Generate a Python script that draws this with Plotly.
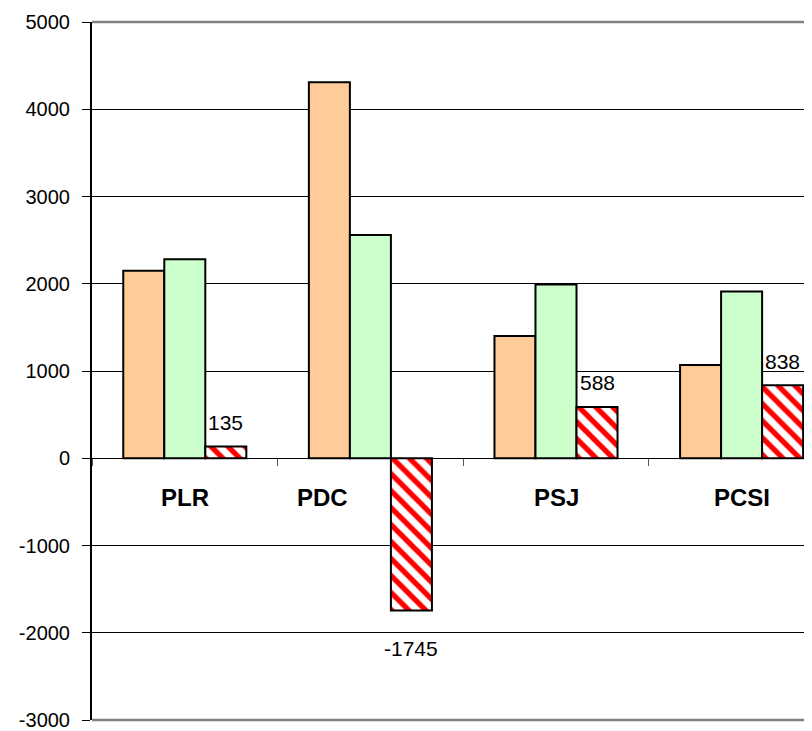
import plotly.graph_objects as go

# data
categories = ["PLR", "PDC", "PSJ", "PCSI"]
series_a = [2150, 4310, 1400, 1070]   # orange bars
series_b = [2280, 2560, 1990, 1910]   # green bars
series_diff = [135, -1745, 588, 838]  # hatched red bars (labelled)
y_ticks = [-3000, -2000, -1000, 0, 1000, 2000, 3000, 4000, 5000]

# the page body adds an 8px offset; the plot runs off the right edge like the original
W, H = 812, 723
margin = dict(l=84, r=0, t=14, b=11)
cat_px = 185.6  # width of one category slot in pixels
x_range = [-0.5, -0.5 + (W - margin["l"] - margin["r"]) / cat_px]
y_range = [-3000, 5000]
bargap = 0.337

bar_px = cat_px * (1 - bargap) / 3

outline = dict(color="black", width=2)

fig = go.Figure()
fig.add_trace(go.Bar(x=categories, y=series_a, marker=dict(color="#FFCC99", line=outline)))
fig.add_trace(go.Bar(x=categories, y=series_b, marker=dict(color="#CCFFCC", line=outline)))
fig.add_trace(go.Bar(
    x=categories, y=series_diff,
    marker=dict(color="white", line=outline,
                pattern=dict(shape="\\", fgcolor="#FF0000", bgcolor="white",
                             fgopacity=1, size=12, solidity=0.45)),
))

# value labels over the hatched bars
for cat, v in zip(categories, series_diff):
    fig.add_annotation(x=cat, y=v, text=str(v), showarrow=False,
                       xshift=bar_px, yshift=24 if v > 0 else -38,
                       font=dict(family="Arial", size=21, color="black"))

# category labels (Excel draws them just under the zero line)
label_shift = {"PDC": -48}
for cat in categories:
    fig.add_annotation(x=cat, y=0, text="<b>%s</b>" % cat, showarrow=False,
                       yanchor="middle", yshift=-39, xshift=label_shift.get(cat, 0),
                       font=dict(family="Arial", size=24, color="black"))

# gray plot-area border at top and bottom
for yy in (0, 1):
    fig.add_shape(type="line", xref="paper", yref="paper", x0=0, x1=1, y0=yy, y1=yy,
                  line=dict(color="#808080", width=2.5))

zero_pos = (0 - y_range[0]) / (y_range[1] - y_range[0])

fig.update_layout(
    width=W, height=H,
    margin=dict(margin, autoexpand=False),
    barmode="group", bargap=bargap, bargroupgap=0,
    showlegend=False,
    plot_bgcolor="white", paper_bgcolor="white",
    font=dict(family="Arial", color="black"),
    xaxis=dict(range=x_range, anchor="free", position=zero_pos, automargin=False,
               showline=True, linecolor="black", linewidth=1,
               ticks="outside", tickson="boundaries", ticklen=7, tickcolor="#555555",
               showticklabels=False, showgrid=False, zeroline=False),
    yaxis=dict(range=y_range, tickvals=y_ticks, ticktext=[str(t) for t in y_ticks],
               automargin=False, showline=True, linecolor="black",
               linewidth=2, ticks="outside", ticklen=8, tickcolor="black",
               ticklabelstandoff=8,
               showgrid=True, gridcolor="black", gridwidth=1, zeroline=False,
               tickfont=dict(family="Arial", size=20, color="black")),
)

fig.write_html("out.html")
